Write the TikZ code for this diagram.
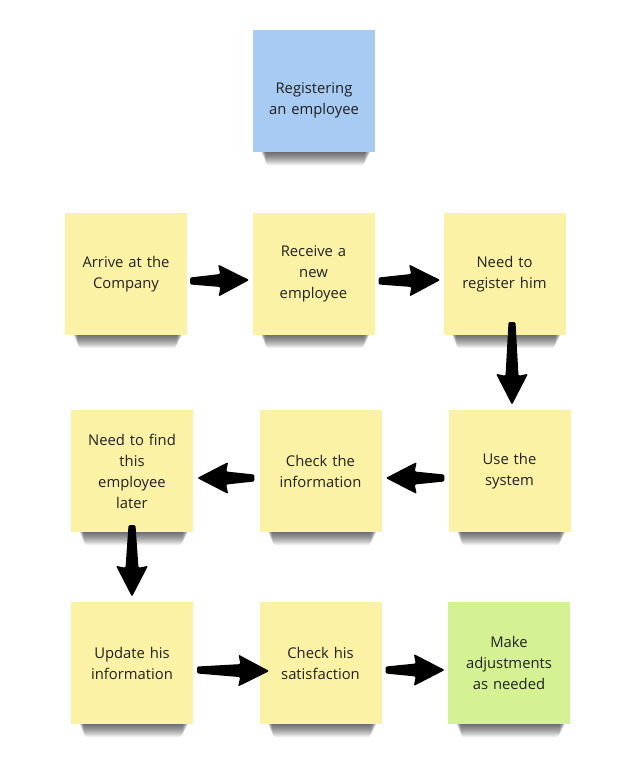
\documentclass[tikz,border=0pt]{standalone}
\usepackage{fontspec}
\setmainfont{Open Sans}
\usetikzlibrary{calc}
\definecolor{noteyellow}{HTML}{FCF2A6}
\definecolor{noteblue}{HTML}{A7CBF3}
\definecolor{notegreen}{HTML}{D4F293}
\definecolor{notetext}{HTML}{202020}
\tikzset{
  note/.style={minimum width=122pt, minimum height=122pt, inner sep=0pt,
    text width=112pt, align=center, text=notetext,
    font=\fontsize{14.8}{21}\selectfont},
  notefill/.style={fill=#1},
  arrowfill/.style={fill=black, rounded corners=1.2pt},
  shadowfill/.style={fill=black, opacity=0.06, rounded corners=3pt}
}
\newcommand\noteshadow[2]{%
  \foreach \k in {2,...,15}{%
    \fill[shadowfill] (#1-54+0.4*\k,#2+58) rectangle (#1+58-0.5*\k,#2+59+\k);
  }%
}
\newcommand\note[5]{%
  \noteshadow{#2}{#3}%
  \node[note, notefill=#4] (#1) at (#2,#3) {#5};
}
\newcommand\fatarrow[2]{%
  \coordinate (fa1) at (#1);
  \coordinate (fa2) at (#2);
  \coordinate (fah) at ($(fa2)!29pt!(fa1)$);
  \coordinate (fab) at ($(fa2)!31pt!(fa1)$);
  \fill[arrowfill] ($(fa1)!3.5pt!90:(fa2)$) -- ($(fah)!6.5pt!90:(fa2)$)
    -- ($(fab)!16pt!90:(fa2)$) -- (fa2) -- ($(fab)!16pt!-90:(fa2)$)
    -- ($(fah)!6.5pt!-90:(fa2)$) -- ($(fa1)!3.5pt!-90:(fa2)$) -- cycle;
}
\begin{document}
\begin{tikzpicture}[x=1pt,y=-1pt]
\useasboundingbox[fill=white] (0,0) rectangle (640,759);
\note{title}{314}{91.5}{noteblue}{\rule{0pt}{28pt}Registering\\an employee}
\note{arrive}{126}{274}{noteyellow}{Arrive at the\\Company}
\note{receive}{313.5}{274}{noteyellow}{Receive a\\new\\employee}
\note{register}{504.5}{274}{noteyellow}{Need to\\register him}
\note{find}{132}{471}{noteyellow}{Need to find\\this\\employee\\later}
\note{check}{320.5}{471}{noteyellow}{Check the\\information}
\note{use}{509.5}{471}{noteyellow}{Use the\\system}
\note{update}{132}{663}{noteyellow}{Update his\\information}
\note{sat}{320.5}{663}{noteyellow}{Check his\\satisfaction}
\note{make}{509}{663}{notegreen}{Make\\adjustments\\as needed}
\fatarrow{$(arrive.east)+(3,7)$}{$(receive.west)+(-3,6)$}
\fatarrow{$(receive.east)+(4,7)$}{$(register.west)+(-3,6)$}
\fatarrow{$(register.south)+(7.5,-13)$}{$(use.north)+(2.5,-5)$}
\fatarrow{$(use.west)+(-4,7)$}{$(check.east)+(4,7)$}
\fatarrow{$(check.west)+(-5,7)$}{$(find.east)+(4,7)$}
\fatarrow{$(find.south)+(0,-7)$}{$(update.north)+(0,-5)$}
\fatarrow{$(update.east)+(4,7)$}{$(sat.west)+(10,8)$}
\fatarrow{$(sat.east)+(4,7)$}{$(make.west)+(-3,7)$}
\end{tikzpicture}
\end{document}
